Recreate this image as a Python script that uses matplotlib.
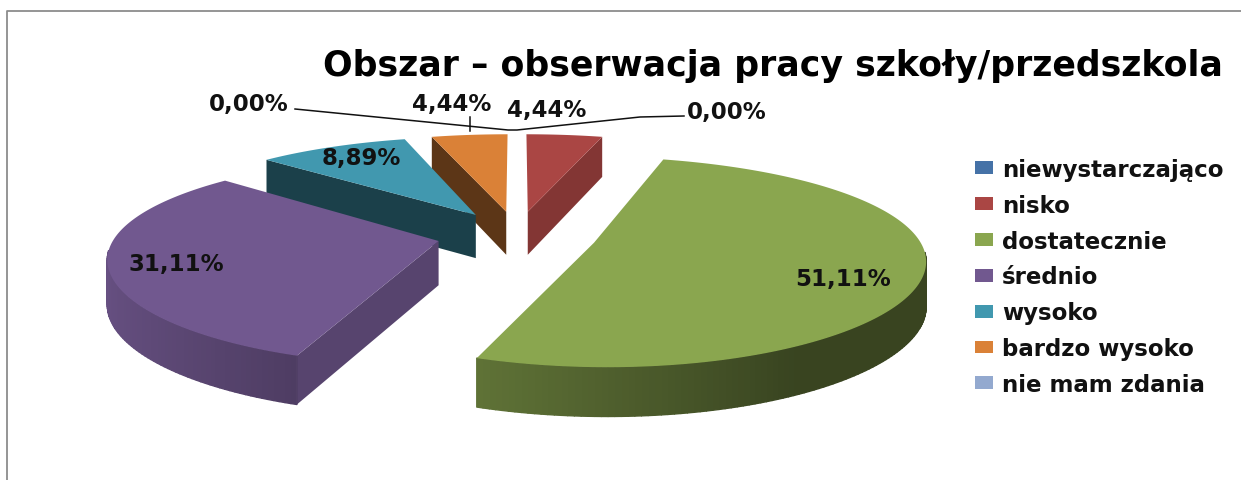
import numpy as np
import matplotlib
matplotlib.use("Agg")
import matplotlib.pyplot as plt
from matplotlib.patches import Patch, Polygon
from matplotlib.collections import PolyCollection

# ---------- data ----------
categories = ["niewystarczająco", "nisko", "dostatecznie", "średnio",
              "wysoko", "bardzo wysoko", "nie mam zdania"]
values = [0.00, 4.44, 51.11, 31.11, 8.89, 4.44, 0.00]
title = "Obszar – obserwacja pracy szkoły/przedszkola"

# ---------- style ----------
colors = ["#4572A7", "#AA4644", "#8AA64F", "#71588F", "#4198AF", "#DA8137", "#93A9CF"]
side_factor = [0.77, 0.77, 0.6, 0.77, 0.42, 0.42, 0.77]
draw_order = [1, 5, 4, 3, 2]
label_pos = {0: (249, 105), 1: (547, 111), 2: (843, 280), 3: (176, 265),
             4: (361, 159), 5: (452, 105), 6: (727, 112)}
CX, CY, R, RQ, KX, KY, EXPLODE, H = 517, 236, 323, 99, 0.145, 0.18, 0.248, 44

fig = plt.figure(figsize=(12.41, 4.81), dpi=100, facecolor="white")
ax = fig.add_axes([0, 0, 1, 1])
ax.set_xlim(0, 1241)
ax.set_ylim(481, 0)
ax.axis("off")


def project(u, v, drop=0.0):
    sx = 1.0 / (1.0 + KX * v)
    sy = 1.0 / (1.0 + KY * v)
    return CX + R * u * sx, CY - RQ * v * sy + drop * (1 + (sy - 1) * 0.5)


def shade(col, f):
    return tuple(c * f for c in matplotlib.colors.to_rgb(col))


total = sum(values)
edges = np.concatenate([[0], np.cumsum(values)]) / total * 2 * np.pi

for rank, i in enumerate(draw_order):
    t0, t1 = edges[i], edges[i + 1]
    b = (t0 + t1) / 2
    ou, ov = EXPLODE * np.sin(b), EXPLODE * np.cos(b)
    ts = np.linspace(t0, t1, max(8, int(np.degrees(t1 - t0))))
    us, vs = ou + np.sin(ts), ov + np.cos(ts)
    apex = np.array(project(ou, ov))
    mid = np.array(project(ou + 0.6 * np.sin(b), ov + 0.6 * np.cos(b))) - apex
    # radial walls, only those that face the viewer
    for t in (t0, t1):
        end = np.array(project(ou + np.sin(t), ov + np.cos(t)))
        e = end - apex
        into_slice = e[0] * mid[1] - e[1] * mid[0]
        downward = e[0]
        if abs(downward) < 3 or into_slice * downward > 0:
            continue
        pts = [project(ou, ov), project(ou + np.sin(t), ov + np.cos(t)),
               project(ou + np.sin(t), ov + np.cos(t), H), project(ou, ov, H)]
        ax.add_patch(Polygon(pts, closed=True, fc=shade(colors[i], side_factor[i]),
                             ec="none", zorder=2 + rank))
    # outer wall with a horizontal gradient
    quads, cols = [], []
    for j in range(len(ts) - 1):
        if np.cos((ts[j] + ts[j + 1]) / 2) > -0.1:
            continue
        quads.append([project(us[j], vs[j]), project(us[j + 1], vs[j + 1]),
                      project(us[j + 1], vs[j + 1], H), project(us[j], vs[j], H)])
        f = np.clip(0.58 - 0.33 * np.sin(ts[j]), 0.41, 0.92)
        cols.append(shade(colors[i], f))
    if quads:
        ax.add_collection(PolyCollection(quads, facecolors=cols, edgecolors=cols,
                                         linewidths=1.0, zorder=2 + rank + 0.1))
    # top face
    top = [project(ou, ov)] + [project(u, v) for u, v in zip(us, vs)]
    ax.add_patch(Polygon(top, closed=True, fc=colors[i], ec="none", zorder=2 + rank + 0.2))

# frame
ax.plot([7, 7, 1241], [481, 12, 12], color="#8C8C8C", lw=1.3, zorder=1, clip_on=False)

# leader lines
LC = "#111111"
ax.plot([295, 508, 517, 640, 684], [110, 131, 131, 118, 117], color=LC, lw=1.1, zorder=20)
ax.plot([470, 470], [118, 132], color=LC, lw=1.1, zorder=20)

# labels
for i, v in enumerate(values):
    x, y = label_pos[i]
    ax.text(x, y, f"{v:.2f}".replace(".", ",") + "%", ha="center", va="center",
            fontsize=16.5, fontweight="bold", color="#111111", zorder=25)

ax.text(773, 66, title, ha="center", va="center", fontsize=25,
        fontweight="bold", color="black", zorder=25)

handles = [Patch(fc=c, ec="none", label=n) for c, n in zip(colors, categories)]
leg = ax.legend(handles=handles, loc="upper left", bbox_to_anchor=(975, 159),
                bbox_transform=ax.transData, frameon=False,
                prop={"size": 16.5, "weight": "bold"},
                handlelength=0.79, handleheight=0.48, handletextpad=0.39,
                labelspacing=0.56, borderpad=0, borderaxespad=0)
for t in leg.get_texts():
    t.set_color("#111111")

fig.savefig("out.png", dpi=100, facecolor="white")
